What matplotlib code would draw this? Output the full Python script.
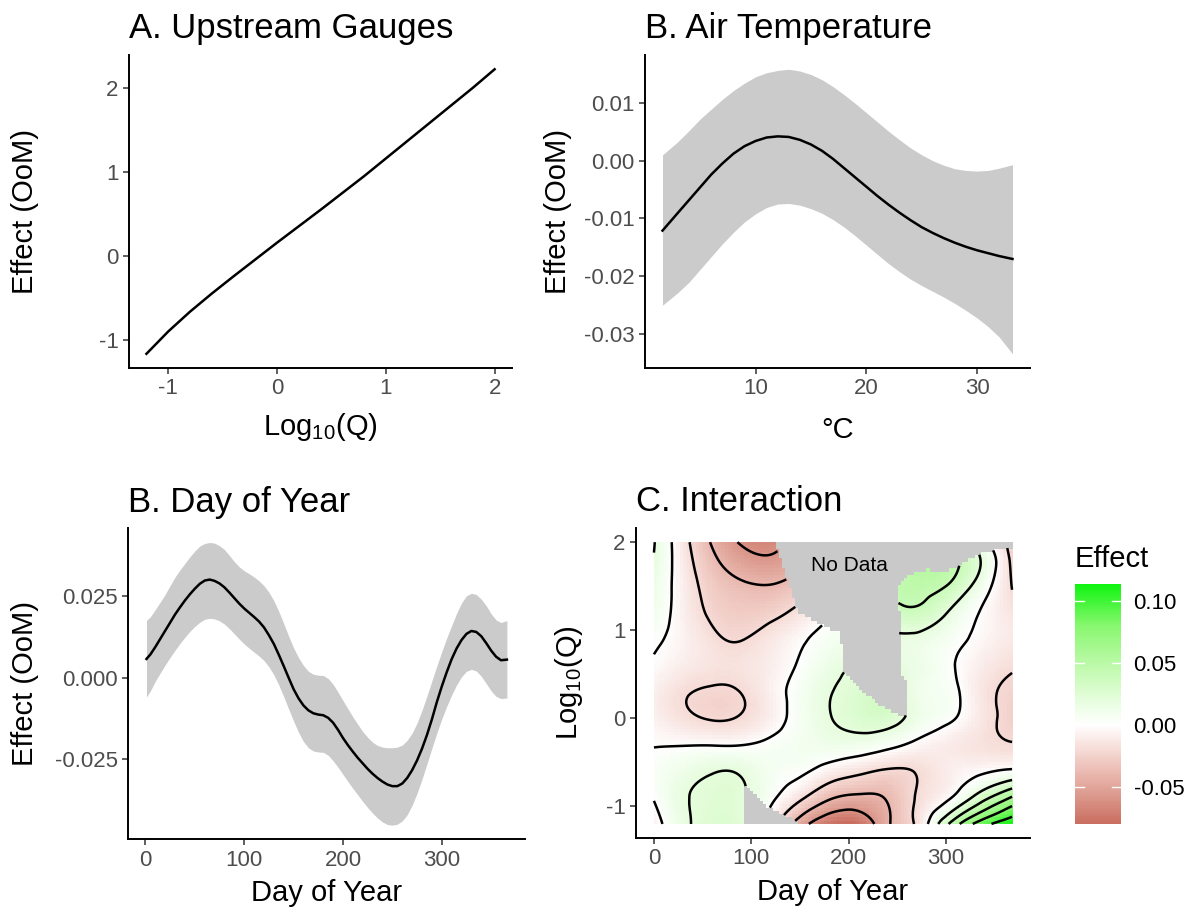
import numpy as np
import matplotlib

matplotlib.use("Agg")
import matplotlib.pyplot as plt
import matplotlib.tri as mtri
from matplotlib.colors import LinearSegmentedColormap, Normalize
from matplotlib.path import Path

plt.rcParams["font.family"] = ["Liberation Sans", "DejaVu Sans"]
plt.rcParams["mathtext.fontset"] = "custom"
plt.rcParams["mathtext.rm"] = "Liberation Sans"
plt.rcParams["mathtext.it"] = "Liberation Sans:italic"
plt.rcParams["axes.unicode_minus"] = False

# --- A. upstream gauges -------------------------------------------------
q_log10 = [-1.2, -1.0, -0.8, -0.6, -0.4, -0.2, 0.0, 0.2, 0.4, 0.6, 0.8,
           1.0, 1.2, 1.4, 1.6, 1.8, 2.0]
upstream_effect = [-1.16, -0.895, -0.66, -0.445, -0.24, -0.04, 0.16, 0.355,
                   0.55, 0.75, 0.95, 1.16, 1.37, 1.58, 1.79, 2.00, 2.22]

# --- B. air temperature -------------------------------------------------
air_temp = [1.6, 3, 4, 5, 6, 7, 8, 9, 10, 11, 12, 13, 14, 15, 16, 17, 18,
            19, 20, 21, 22, 23, 24, 25, 26, 27, 28, 29, 30, 31, 32, 33.2]
temp_effect = [-0.0121, -0.0090, -0.0068, -0.0046, -0.0024, -0.0005, 0.0012,
               0.0025, 0.0034, 0.0040, 0.0042, 0.0041, 0.0036, 0.0028,
               0.0017, 0.0003, -0.0013, -0.0029, -0.0045, -0.0061, -0.0076,
               -0.0090, -0.0103, -0.0115, -0.0125, -0.0134, -0.0142,
               -0.0149, -0.0155, -0.0160, -0.0165, -0.0170]
temp_upper = [0.0010, 0.0033, 0.0052, 0.0072, 0.0089, 0.0106, 0.0121,
              0.0134, 0.0145, 0.0152, 0.0156, 0.0158, 0.0155, 0.0149,
              0.0140, 0.0128, 0.0114, 0.0099, 0.0083, 0.0067, 0.0051,
              0.0036, 0.0022, 0.0010, 0.0000, -0.0008, -0.0014, -0.0017,
              -0.0018, -0.0017, -0.0013, -0.0007]
temp_lower = [-0.0250, -0.0228, -0.0210, -0.0188, -0.0166, -0.0144, -0.0124,
              -0.0106, -0.0092, -0.0081, -0.0075, -0.0074, -0.0077, -0.0083,
              -0.0091, -0.0102, -0.0115, -0.0130, -0.0146, -0.0162, -0.0178,
              -0.0192, -0.0205, -0.0216, -0.0226, -0.0236, -0.0247, -0.0259,
              -0.0272, -0.0287, -0.0305, -0.0334]

# --- B. day of year -----------------------------------------------------
doy = [1, 5, 10, 15, 20, 25, 30, 35, 40, 45, 50, 55, 60, 65, 70, 75, 80, 85,
       90, 95, 100, 105, 110, 115, 120, 125, 130, 135, 140, 145, 150, 155,
       160, 165, 170, 175, 180, 185, 190, 195, 200, 205, 210, 215, 220, 225,
       230, 235, 240, 245, 250, 255, 260, 265, 270, 275, 280, 285, 290, 295,
       300, 305, 310, 315, 320, 325, 330, 335, 340, 345, 350, 355, 360, 366]
doy_effect = [0.0058, 0.0072, 0.0095, 0.0120, 0.0145, 0.0170, 0.0195, 0.0217,
              0.0238, 0.0257, 0.0274, 0.0289, 0.0299, 0.0302, 0.0298, 0.0290,
              0.0278, 0.0262, 0.0245, 0.0228, 0.0213, 0.0200, 0.0187, 0.0173,
              0.0155, 0.0131, 0.0104, 0.0071, 0.0036, 0.0000, -0.0035,
              -0.0063, -0.0085, -0.0100, -0.0109, -0.0113, -0.0115, -0.0123,
              -0.0138, -0.0160, -0.0185, -0.0207, -0.0227, -0.0246, -0.0263,
              -0.0280, -0.0295, -0.0308, -0.0319, -0.0328, -0.0333, -0.0333,
              -0.0325, -0.0308, -0.0284, -0.0254, -0.0218, -0.0176, -0.0128,
              -0.0075, -0.0027, 0.0017, 0.0057, 0.0090, 0.0116, 0.0135,
              0.0144, 0.0141, 0.0128, 0.0107, 0.0084, 0.0065, 0.0054, 0.0056]
doy_upper = [0.0176, 0.0188, 0.0210, 0.0233, 0.0257, 0.0284, 0.0310, 0.0332,
             0.0352, 0.0372, 0.0390, 0.0405, 0.0413, 0.0416, 0.0414, 0.0406,
             0.0394, 0.0376, 0.0357, 0.0341, 0.0329, 0.0320, 0.0310, 0.0298,
             0.0283, 0.0263, 0.0237, 0.0204, 0.0167, 0.0128, 0.0092, 0.0062,
             0.0038, 0.0020, 0.0011, 0.0008, 0.0007, -0.0002, -0.0020,
             -0.0044, -0.0070, -0.0095, -0.0120, -0.0143, -0.0165, -0.0183,
             -0.0198, -0.0208, -0.0213, -0.0215, -0.0215, -0.0213, -0.0207,
             -0.0192, -0.0170, -0.0139, -0.0100, -0.0056, -0.0010, 0.0036,
             0.0080, 0.0122, 0.0160, 0.0198, 0.0230, 0.0252, 0.0260, 0.0256,
             0.0242, 0.0222, 0.0197, 0.0178, 0.0170, 0.0176]
doy_lower = [-0.0059, -0.0040, -0.0010, 0.0015, 0.0040, 0.0063, 0.0085,
             0.0106, 0.0125, 0.0143, 0.0158, 0.0171, 0.0180, 0.0183, 0.0181,
             0.0175, 0.0165, 0.0151, 0.0135, 0.0119, 0.0104, 0.0091, 0.0079,
             0.0067, 0.0053, 0.0034, 0.0009, -0.0022, -0.0058, -0.0096,
             -0.0133, -0.0168, -0.0196, -0.0215, -0.0225, -0.0228, -0.0229,
             -0.0238, -0.0255, -0.0275, -0.0297, -0.0319, -0.0340, -0.0360,
             -0.0380, -0.0399, -0.0416, -0.0431, -0.0443, -0.0451, -0.0453,
             -0.0450, -0.0440, -0.0421, -0.0392, -0.0355, -0.0312, -0.0265,
             -0.0217, -0.0170, -0.0127, -0.0088, -0.0053, -0.0022, 0.0003,
             0.0020, 0.0026, 0.0021, 0.0005, -0.0017, -0.0040, -0.0057,
             -0.0064, -0.0062]

# --- C. interaction surface (rows = grid_logq, columns = grid_day) ------
grid_day = [0, 30, 60, 90, 120, 150, 180, 210, 240, 270, 300, 330, 368]
grid_logq = [-1.2, -0.9, -0.6, -0.3, 0.0, 0.3, 0.6, 0.9, 1.2, 1.5, 1.8, 2.0]
interaction_effect = [
    [-0.008, 0.016, 0.026, 0.022, -0.010, -0.050, -0.076, -0.078, -0.043, -0.017, 0.035, 0.083, 0.114],
    [0.001, 0.018, 0.024, 0.022, 0.004, -0.016, -0.037, -0.044, -0.038, -0.019, -0.004, 0.024, 0.062],
    [0.004, 0.013, 0.019, 0.018, 0.008, 0.003, -0.008, -0.016, -0.022, -0.019, -0.010, -0.004, 0.003],
    [-0.0008, -0.0008, -0.0008, -0.0005, 0.004, 0.009, 0.012, 0.011, 0.005, -0.004, -0.010, -0.015, -0.019],
    [-0.007, -0.016, -0.021, -0.0185, -0.008, 0.007, 0.019, 0.027, 0.028, 0.013, 0.004, -0.010, -0.026],
    [-0.008, -0.018, -0.022, -0.0195, -0.008, 0.007, 0.019, 0.027, 0.030, 0.012, 0.006, -0.010, -0.024],
    [-0.002, -0.010, -0.015, -0.015, -0.009, 0.002, 0.014, 0.020, 0.020, 0.014, 0.004, -0.008, -0.018],
    [0.003, -0.007, -0.017, -0.0205, -0.013, -0.003, 0.007, 0.013, 0.017, 0.016, 0.008, -0.0025, -0.012],
    [0.011, -0.008, -0.023, -0.028, -0.025, -0.015, -0.002, 0.014, 0.030, 0.036, 0.021, 0.002, -0.015],
    [0.014, -0.009, -0.028, -0.037, -0.039, -0.030, -0.015, 0.006, 0.038, 0.047, 0.040, 0.016, -0.0205],
    [0.019, -0.011, -0.036, -0.052, -0.057, -0.045, -0.025, -0.005, 0.020, 0.050, 0.048, 0.026, -0.024],
    [0.021, -0.013, -0.042, -0.062, -0.066, -0.050, -0.030, -0.010, 0.015, 0.040, 0.040, 0.015, -0.028],
]
nodata_top_day = [117.2, 126.4, 132.6, 139.8, 147.0, 167.5, 182.9, 191.2,
                  194.2, 201.4, 214.8, 229.2, 239.5, 249.7, 260.0, 260.0,
                  252.8, 250.8, 258.0, 266.2, 280.6, 297.0, 311.4, 321.7,
                  332.0, 348.4, 370.0, 370.0, 117.2]
nodata_top_logq = [2.1, 1.935, 1.708, 1.481, 1.208, 1.094, 1.003, 0.981,
                   0.549, 0.435, 0.288, 0.174, 0.095, 0.038, 0.038, 0.435,
                   0.492, 1.515, 1.594, 1.651, 1.685, 1.662, 1.719, 1.799,
                   1.856, 1.913, 1.947, 2.1, 2.1]
nodata_bottom_day = [90.4, 93.5, 98.7, 105.9, 112.0, 119.2, 126.4, 136.7,
                     147.0, 153.0, 90.4]
nodata_bottom_logq = [-0.77, -0.77, -0.81, -0.89, -0.96, -1.02, -1.06, -1.12,
                      -1.18, -1.3, -1.3]
contour_levels = [-0.06, -0.04, -0.02, 0.0, 0.02, 0.04, 0.06, 0.08, 0.10]
effect_limits = (-0.080, 0.114)
legend_breaks = [-0.05, 0.0, 0.05, 0.10]

BAND = "#CBCBCB"
NA_GREY = "#C9C9C9"
TICK_GREY = "#4D4D4D"


def expand(values, mult=0.05):
    lo, hi = min(values), max(values)
    pad = (hi - lo) * mult
    return lo - pad, hi + pad


def style_axis(ax):
    for side in ("top", "right"):
        ax.spines[side].set_visible(False)
    for side in ("left", "bottom"):
        ax.spines[side].set_linewidth(1.4)
        ax.spines[side].set_color("black")
    ax.tick_params(length=4.5, width=1.1, color="#333333", labelsize=16,
                   labelcolor=TICK_GREY, pad=3)


fig = plt.figure(figsize=(11.96, 9.13), dpi=100)

# A
ax_a = fig.add_axes([0.1079, 0.5969, 0.3202, 0.3428])
ax_a.plot(q_log10, upstream_effect, color="black", linewidth=1.8)
ax_a.set_xlim(*expand(q_log10))
ax_a.set_ylim(*expand(upstream_effect))
ax_a.set_xticks([-1, 0, 1, 2])
ax_a.set_yticks([-1, 0, 1, 2])
ax_a.set_xticklabels(["-1", "0", "1", "2"])
ax_a.set_yticklabels(["-1", "0", "1", "2"])
ax_a.set_xlabel(r"Log$_{10}$(Q)", fontsize=21, labelpad=8)
ax_a.set_ylabel("Effect (OoM)", fontsize=21)
ax_a.yaxis.set_label_coords(-0.235, 0.5)
ax_a.set_title("A. Upstream Gauges", loc="left", fontsize=25, pad=12)
style_axis(ax_a)

# B air temperature
ax_b = fig.add_axes([0.5393, 0.5969, 0.3219, 0.3428])
ax_b.fill_between(air_temp, temp_lower, temp_upper, color=BAND, linewidth=0)
ax_b.plot(air_temp, temp_effect, color="black", linewidth=1.8)
ax_b.set_xlim(*expand(air_temp))
ax_b.set_ylim(*expand(temp_lower + temp_upper))
ax_b.set_xticks([10, 20, 30])
ax_b.set_yticks([-0.03, -0.02, -0.01, 0.0, 0.01])
ax_b.set_yticklabels(["-0.03", "-0.02", "-0.01", "0.00", "0.01"])
ax_b.set_xlabel("°C", fontsize=21, labelpad=12)
ax_b.set_ylabel("Effect (OoM)", fontsize=21)
ax_b.yaxis.set_label_coords(-0.19, 0.5)
ax_b.set_title("B. Air Temperature", loc="left", fontsize=25, pad=12)
style_axis(ax_b)

# B day of year
ax_c = fig.add_axes([0.1074, 0.0807, 0.3315, 0.3406])
ax_c.fill_between(doy, doy_lower, doy_upper, color=BAND, linewidth=0)
ax_c.plot(doy, doy_effect, color="black", linewidth=1.8)
ax_c.set_xlim(*expand(doy))
ax_c.set_ylim(*expand(doy_lower + doy_upper))
ax_c.set_xticks([0, 100, 200, 300])
ax_c.set_yticks([-0.025, 0.0, 0.025])
ax_c.set_yticklabels(["-0.025", "0.000", "0.025"])
ax_c.set_xlabel("Day of Year", fontsize=21, labelpad=6)
ax_c.set_ylabel("Effect (OoM)", fontsize=21)
ax_c.yaxis.set_label_coords(-0.226, 0.5)
ax_c.set_title("B. Day of Year", loc="left", fontsize=25, pad=12)
style_axis(ax_c)

# C interaction
ax_d = fig.add_axes([0.5318, 0.0821, 0.3294, 0.3395])
d0, d1 = min(grid_day), max(grid_day)
q0, q1 = min(grid_logq), max(grid_logq)
gx, gy = np.meshgrid(grid_day, grid_logq)
gu = (gx.ravel() - d0) / (d1 - d0)
gv = (gy.ravel() - q0) / (q1 - q0)
nx, ny = len(grid_day), len(grid_logq)
triangles = []
for j in range(ny - 1):
    for i in range(nx - 1):
        a = j * nx + i
        if (i + j) % 2 == 0:
            triangles += [[a, a + 1, a + nx + 1], [a, a + nx + 1, a + nx]]
        else:
            triangles += [[a, a + 1, a + nx], [a + 1, a + nx + 1, a + nx]]
tri = mtri.Triangulation(gu, gv, triangles)
interp = mtri.CubicTriInterpolator(
    tri, np.array(interaction_effect).ravel(), kind="min_E")

nodata_paths = [
    Path(np.column_stack([nodata_top_day, nodata_top_logq])),
    Path(np.column_stack([nodata_bottom_day, nodata_bottom_logq])),
]


def evaluate(days, logqs):
    dd, qq = np.meshgrid(days, logqs)
    z = np.ma.masked_invalid(np.asarray(
        interp((dd - d0) / (d1 - d0), (qq - q0) / (q1 - q0)).filled(np.nan)))
    pts = np.column_stack([dd.ravel(), qq.ravel()])
    hidden = np.zeros(len(pts), dtype=bool)
    for path in nodata_paths:
        hidden |= path.contains_points(pts)
    return dd, qq, np.ma.masked_where(hidden.reshape(dd.shape) | z.mask, z)


vmin, vmax = effect_limits
cmap_values = [-0.08, -0.06, -0.04, -0.02, 0.0, 0.023, 0.05, 0.08, 0.114]
cmap_colors = ["#C96E60", "#DA9488", "#E9B7AE", "#F6DBD6", "#FFFFFF",
               "#E2FDD8", "#BBF9A7", "#89F770", "#10F410"]
cmap = LinearSegmentedColormap.from_list(
    "effect",
    [((v - vmin) / (vmax - vmin), c) for v, c in zip(cmap_values, cmap_colors)])
cmap.set_bad(NA_GREY)
norm = Normalize(vmin=vmin, vmax=vmax)

n_cols, n_rows = 112, 86
cell_days = d0 + (np.arange(n_cols) + 0.5) * (d1 - d0) / n_cols
cell_logq = q0 + (np.arange(n_rows) + 0.5) * (q1 - q0) / n_rows
_, _, raster = evaluate(cell_days, cell_logq)
ax_d.imshow(raster, extent=[d0, d1, q0, q1], origin="lower", aspect="auto",
            interpolation="nearest", cmap=cmap, norm=norm, zorder=1)

fd, fq, fine = evaluate(np.linspace(d0, d1, 480), np.linspace(q0, q1, 380))
ax_d.contour(fd, fq, fine, levels=contour_levels, colors="black",
             linewidths=1.8, linestyles="solid", zorder=2)
ax_d.text(201, 1.74, "No Data", ha="center", va="center", fontsize=15,
          zorder=3)
ax_d.set_xlim(*expand(grid_day))
ax_d.set_ylim(*expand(grid_logq))
ax_d.set_xticks([0, 100, 200, 300])
ax_d.set_yticks([-1, 0, 1, 2])
ax_d.set_yticklabels(["-1", "0", "1", "2"])
ax_d.set_xlabel("Day of Year", fontsize=21, labelpad=6)
ax_d.set_ylabel(r"Log$_{10}$(Q)", fontsize=21)
ax_d.yaxis.set_label_coords(-0.129, 0.5)
ax_d.set_title("C. Interaction", loc="left", fontsize=25, pad=12)
style_axis(ax_d)

# legend
cax = fig.add_axes([0.8988, 0.0975, 0.0385, 0.2629])
sm = plt.cm.ScalarMappable(norm=norm, cmap=cmap)
cb = fig.colorbar(sm, cax=cax, ticks=legend_breaks)
cb.outline.set_visible(False)
cax.set_yticklabels(["-0.05", "0.00", "0.05", "0.10"])
cax.tick_params(length=0, labelsize=16, pad=9, labelcolor="black")
for b in legend_breaks:
    cax.axhline(b, xmin=0, xmax=0.2, color="white", linewidth=1)
    cax.axhline(b, xmin=0.8, xmax=1, color="white", linewidth=1)
fig.text(0.8988, (913 - 567) / 913, "Effect", fontsize=21, ha="left",
         va="baseline")

fig.savefig("out.png", dpi=100, facecolor="white")
